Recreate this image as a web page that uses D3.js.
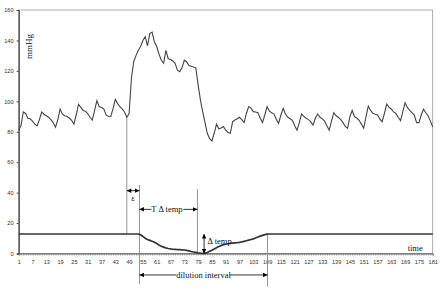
<!DOCTYPE html>
<html>
<head>
<meta charset="utf-8">
<script src="https://cdn.jsdelivr.net/npm/d3@7"></script>
<style>
  body { margin: 0; background: #fff; }
  .tick text { font-family: "Liberation Sans", Arial, sans-serif; font-size: 5.6px; fill: #333; }
  .note { font-family: "Liberation Serif", "Times New Roman", serif; fill: #111; }
</style>
</head>
<body>
<div id="chart-container"></div>
<script>
// blood pressure (mmHg) per time step 1..181
const pressure = [
  81, 84, 93, 92, 88.8, 88.5, 87, 85, 83.8, 88,
  93, 91.5, 90.5, 89.5, 88, 86, 83, 88, 95, 91.5,
  90.5, 90, 89, 87.5, 85, 91, 98, 96, 94, 93.5,
  92, 89.5, 87.7, 94, 100.4, 96.5, 96, 95, 91, 90,
  89.9, 95, 101.3, 98.5, 96.5, 95, 93, 89.5, 92, 115,
  126, 130, 133.5, 136, 140, 142.5, 136.5, 144.5, 145.5, 139,
  136, 131, 127, 125, 133.5, 128, 127.5, 126.5, 125, 120.5,
  119.5, 122, 127, 126, 123.5, 123, 122.5, 122, 111, 101,
  93, 86, 79, 75.5, 74, 79, 85, 82, 82.5, 83.5,
  81, 79.5, 79, 86.5, 87.7, 88.5, 89.5, 88, 86, 92,
  96.5, 95.5, 93.2, 93, 92.5, 89, 86, 91, 96.5, 93.5,
  92.5, 91.6, 88, 85.5, 91, 95.4, 91.5, 89.5, 88.5, 87.5,
  84, 81, 86, 91.7, 90, 88.8, 88, 86.5, 84.4, 89,
  91.7, 89.5, 88.5, 87, 84, 81, 87, 92.5, 90.5, 89.5,
  88, 86, 83.5, 82.3, 90, 94, 89.9, 89, 87.5, 85,
  82.3, 90, 96.9, 94, 92.1, 91.5, 91, 88.5, 86.6, 92,
  98.2, 96, 95, 93, 92, 89.5, 87.3, 93, 99, 96,
  94, 92.5, 91, 86, 86, 91, 94.8, 92.5, 90.5, 87,
  83.3
];

// temperature signal, 1..53 flat, dip, then flat again from 110
const tempDip = [
  12.3, 11.2, 10, 9.2, 8.6, 8, 7.4, 6.6, 5.6, 4.8,
  4.2, 3.7, 3.3, 3.0, 2.8, 2.7, 2.6, 2.5, 2.4, 2.3,
  2.0, 1.7, 1.3, 1.0, 0.7, 0.4, 0.2, 0.1, 0.1, 0.6,
  1.4, 2.2, 3.0, 3.8, 4.6, 5.2, 5.8, 6.1, 6.4, 6.6,
  6.8, 7.0, 7.1, 7.3, 7.6, 8.0, 8.4, 8.8, 9.2, 9.6,
  10.2, 10.8, 11.4, 11.9, 12.4, 12.7
];
const tempBase = 12.8;
const temperature = d3.range(53).map(() => tempBase)
  .concat(tempDip)
  .concat(d3.range(181 - 53 - tempDip.length).map(() => tempBase));

const times = d3.range(1, 182);
const xLabels = d3.range(1, 182, 6);
const yTicks = [0, 20, 40, 60, 80, 100, 120, 140, 160];

// marker positions (time steps) for the annotation lines
const marks = { inject: 48, start: 53.5, peak: 78.7, low: 81.6, end: 109.2 };

const margin = {top: 10, right: 7.3, bottom: 39.5, left: 18.7},
    width = 440 - margin.left - margin.right,
    height = 293 - margin.top - margin.bottom;

const svg = d3.select("#chart-container")
    .append("svg")
    .attr("width", 440)
    .attr("height", 293)
    .append("g")
    .attr("transform", `translate(${margin.left},${margin.top})`);

const defs = svg.append("defs");
defs.append("marker")
    .attr("id", "head")
    .attr("viewBox", "0 0 10 10")
    .attr("refX", 10).attr("refY", 5)
    .attr("markerWidth", 5).attr("markerHeight", 4.5)
    .attr("markerUnits", "userSpaceOnUse")
    .attr("orient", "auto-start-reverse")
    .append("path")
    .attr("d", "M0,0L10,5L0,10z")
    .attr("fill", "#000");

const x = d3.scaleLinear().domain([1, 181]).range([0, width]);
const y = d3.scaleLinear().domain([0, 160]).range([height, 0]);

// plot frame (top & right in grey)
svg.append("rect")
    .attr("x", 0).attr("y", 0)
    .attr("width", width).attr("height", height)
    .attr("fill", "none")
    .attr("stroke", "#999")
    .attr("stroke-width", 0.8);

// Y axis
const yAxis = svg.append("g")
    .call(d3.axisLeft(y).tickValues(yTicks).tickSize(2).tickPadding(3.2));
yAxis.select(".domain").attr("stroke", "#222");
yAxis.selectAll(".tick line").attr("stroke", "#444");

// X axis, a tick for every step
const xAxis = svg.append("g")
    .attr("transform", `translate(0,${height})`)
    .call(d3.axisBottom(x).tickValues(times).tickSize(2).tickPadding(4.5)
        .tickFormat(d => (d - 1) % 6 === 0 ? d : ""));
xAxis.select(".domain").attr("stroke", "#444").attr("stroke-width", 0.8);
xAxis.selectAll(".tick line").attr("stroke", "#666").attr("stroke-width", 0.6);

svg.append("text")
    .attr("class", "note")
    .attr("transform", `translate(${13.5},${36.5}) rotate(-90)`)
    .attr("text-anchor", "middle")
    .style("font-size", "9px")
    .text("mmHg");

// annotation lines (grey verticals)
const vlines = [
  {t: marks.inject, v1: pressure[47], v2: tempBase},
  {t: marks.start, v1: 45, v2: -20},
  {t: marks.peak, v1: 42.4, v2: 0},
  {t: marks.end, v1: 12.2, v2: -21.8}
];
svg.selectAll(".vline")
    .data(vlines)
    .join("line")
    .attr("x1", d => x(d.t)).attr("x2", d => x(d.t))
    .attr("y1", d => y(d.v1)).attr("y2", d => y(d.v2))
    .attr("stroke", "#888")
    .attr("stroke-width", 0.9);

// series
const line = d3.line().x((d, i) => x(times[i])).y(d => y(d));

svg.append("path")
    .datum(pressure)
    .attr("fill", "none")
    .attr("stroke", "#444")
    .attr("stroke-width", 1.1)
    .attr("d", line);

svg.append("path")
    .datum(temperature)
    .attr("fill", "none")
    .attr("stroke", "#333")
    .attr("stroke-width", 1.7)
    .attr("d", line);

function arrow(x1, y1, x2, y2, both) {
    const l = svg.append("line")
        .attr("x1", x1).attr("y1", y1).attr("x2", x2).attr("y2", y2)
        .attr("stroke", "#000").attr("stroke-width", 0.8)
        .attr("marker-end", "url(#head)");
    if (both) l.attr("marker-start", "url(#head)");
}

// epsilon
arrow(x(marks.inject), y(41.3), x(marks.start), y(41.3), true);
svg.append("text").attr("class", "note")
    .attr("x", (x(marks.inject) + x(marks.start)) / 2).attr("y", y(41.3) + 10)
    .attr("text-anchor", "middle").style("font-size", "8.5px").text("ε");

// T delta temp
const tY = y(29);
arrow(x(marks.start) + 12, tY, x(marks.start), tY);
arrow(x(marks.peak) - 14, tY, x(marks.peak), tY);
svg.append("text").attr("class", "note")
    .attr("x", (x(marks.start) + x(marks.peak)) / 2 - 1.5).attr("y", tY + 3)
    .attr("text-anchor", "middle").style("font-size", "8.5px").text("T Δ temp");

// delta temp
arrow(x(marks.low), y(0), x(marks.low), y(tempBase), true);
svg.append("text").attr("class", "note")
    .attr("x", x(marks.low) + 3.5).attr("y", y(tempBase) + 10)
    .style("font-size", "8.5px").text("Δ temp");

// dilution interval
const dY = y(-14.1);
arrow(x(marks.start) + 37, dY, x(marks.start), dY);
arrow(x(marks.end) - 38, dY, x(marks.end), dY);
svg.append("text").attr("class", "note")
    .attr("x", (x(marks.start) + x(marks.end)) / 2).attr("y", dY + 3)
    .attr("text-anchor", "middle").style("font-size", "8.5px").text("dilution interval");

svg.append("text").attr("class", "note")
    .attr("x", width - 17.5).attr("y", height - 3)
    .attr("text-anchor", "middle").style("font-size", "8.5px").text("time");
</script>
</body>
</html>
